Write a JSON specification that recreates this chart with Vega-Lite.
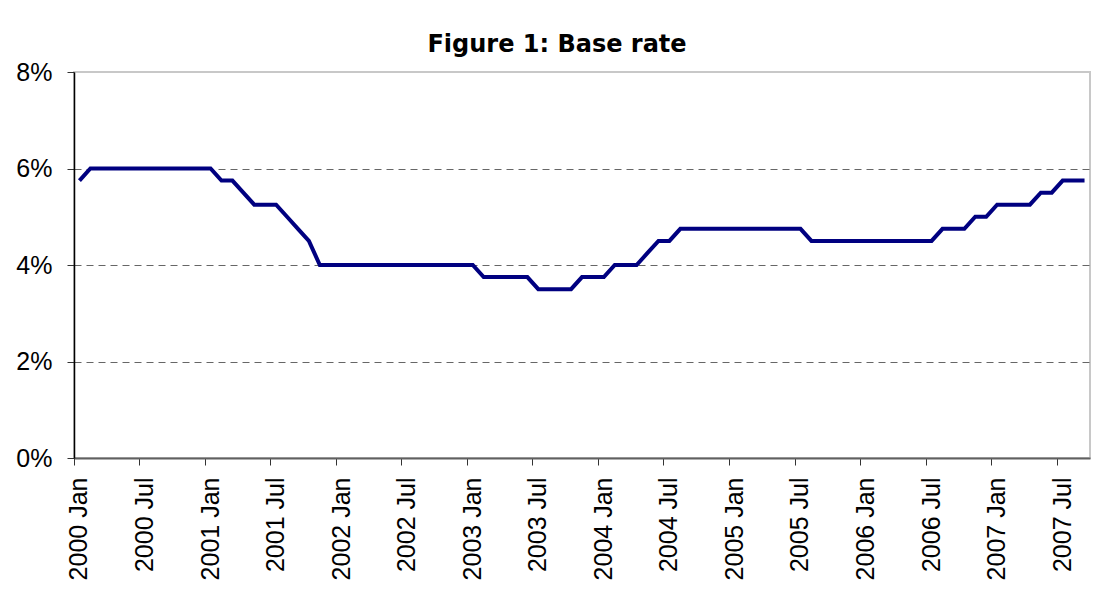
{
  "$schema": "https://vega.github.io/schema/vega-lite/v6.json",
  "width": 1016,
  "height": 386,
  "autosize": {"type": "none"},
  "padding": {"left": 74, "top": 72, "right": 8, "bottom": 131},
  "background": "white",
  "title": {
    "text": "Figure 1: Base rate",
    "font": "DejaVu Sans",
    "fontSize": 24,
    "fontWeight": "bold",
    "color": "black",
    "frame": "group",
    "anchor": "middle",
    "baseline": "alphabetic",
    "offset": -16,
    "dx": -25
  },
  "config": {
    "view": {"stroke": "#c8c8c8", "strokeWidth": 2},
    "axis": {
      "labelFont": "Liberation Sans",
      "labelFontSize": 25,
      "labelColor": "black",
      "titleFont": "Liberation Sans"
    }
  },
  "data": {
    "values": [
      {"month": "2000 Jan", "rate": 5.75}, {"month": "2000 Feb", "rate": 6.0}, {"month": "2000 Mar", "rate": 6.0},
      {"month": "2000 Apr", "rate": 6.0}, {"month": "2000 May", "rate": 6.0}, {"month": "2000 Jun", "rate": 6.0},
      {"month": "2000 Jul", "rate": 6.0}, {"month": "2000 Aug", "rate": 6.0}, {"month": "2000 Sep", "rate": 6.0},
      {"month": "2000 Oct", "rate": 6.0}, {"month": "2000 Nov", "rate": 6.0}, {"month": "2000 Dec", "rate": 6.0},
      {"month": "2001 Jan", "rate": 6.0}, {"month": "2001 Feb", "rate": 5.75}, {"month": "2001 Mar", "rate": 5.75},
      {"month": "2001 Apr", "rate": 5.5}, {"month": "2001 May", "rate": 5.25}, {"month": "2001 Jun", "rate": 5.25},
      {"month": "2001 Jul", "rate": 5.25}, {"month": "2001 Aug", "rate": 5.0}, {"month": "2001 Sep", "rate": 4.75},
      {"month": "2001 Oct", "rate": 4.5}, {"month": "2001 Nov", "rate": 4.0}, {"month": "2001 Dec", "rate": 4.0},
      {"month": "2002 Jan", "rate": 4.0}, {"month": "2002 Feb", "rate": 4.0}, {"month": "2002 Mar", "rate": 4.0},
      {"month": "2002 Apr", "rate": 4.0}, {"month": "2002 May", "rate": 4.0}, {"month": "2002 Jun", "rate": 4.0},
      {"month": "2002 Jul", "rate": 4.0}, {"month": "2002 Aug", "rate": 4.0}, {"month": "2002 Sep", "rate": 4.0},
      {"month": "2002 Oct", "rate": 4.0}, {"month": "2002 Nov", "rate": 4.0}, {"month": "2002 Dec", "rate": 4.0},
      {"month": "2003 Jan", "rate": 4.0}, {"month": "2003 Feb", "rate": 3.75}, {"month": "2003 Mar", "rate": 3.75},
      {"month": "2003 Apr", "rate": 3.75}, {"month": "2003 May", "rate": 3.75}, {"month": "2003 Jun", "rate": 3.75},
      {"month": "2003 Jul", "rate": 3.5}, {"month": "2003 Aug", "rate": 3.5}, {"month": "2003 Sep", "rate": 3.5},
      {"month": "2003 Oct", "rate": 3.5}, {"month": "2003 Nov", "rate": 3.75}, {"month": "2003 Dec", "rate": 3.75},
      {"month": "2004 Jan", "rate": 3.75}, {"month": "2004 Feb", "rate": 4.0}, {"month": "2004 Mar", "rate": 4.0},
      {"month": "2004 Apr", "rate": 4.0}, {"month": "2004 May", "rate": 4.25}, {"month": "2004 Jun", "rate": 4.5},
      {"month": "2004 Jul", "rate": 4.5}, {"month": "2004 Aug", "rate": 4.75}, {"month": "2004 Sep", "rate": 4.75},
      {"month": "2004 Oct", "rate": 4.75}, {"month": "2004 Nov", "rate": 4.75}, {"month": "2004 Dec", "rate": 4.75},
      {"month": "2005 Jan", "rate": 4.75}, {"month": "2005 Feb", "rate": 4.75}, {"month": "2005 Mar", "rate": 4.75},
      {"month": "2005 Apr", "rate": 4.75}, {"month": "2005 May", "rate": 4.75}, {"month": "2005 Jun", "rate": 4.75},
      {"month": "2005 Jul", "rate": 4.75}, {"month": "2005 Aug", "rate": 4.5}, {"month": "2005 Sep", "rate": 4.5},
      {"month": "2005 Oct", "rate": 4.5}, {"month": "2005 Nov", "rate": 4.5}, {"month": "2005 Dec", "rate": 4.5},
      {"month": "2006 Jan", "rate": 4.5}, {"month": "2006 Feb", "rate": 4.5}, {"month": "2006 Mar", "rate": 4.5},
      {"month": "2006 Apr", "rate": 4.5}, {"month": "2006 May", "rate": 4.5}, {"month": "2006 Jun", "rate": 4.5},
      {"month": "2006 Jul", "rate": 4.5}, {"month": "2006 Aug", "rate": 4.75}, {"month": "2006 Sep", "rate": 4.75},
      {"month": "2006 Oct", "rate": 4.75}, {"month": "2006 Nov", "rate": 5.0}, {"month": "2006 Dec", "rate": 5.0},
      {"month": "2007 Jan", "rate": 5.25}, {"month": "2007 Feb", "rate": 5.25}, {"month": "2007 Mar", "rate": 5.25},
      {"month": "2007 Apr", "rate": 5.25}, {"month": "2007 May", "rate": 5.5}, {"month": "2007 Jun", "rate": 5.5},
      {"month": "2007 Jul", "rate": 5.75}, {"month": "2007 Aug", "rate": 5.75}, {"month": "2007 Sep", "rate": 5.75}
    ]
  },
  "mark": {"type": "line", "color": "#000080", "strokeWidth": 4, "clip": false},
  "encoding": {
    "x": {
      "field": "month",
      "type": "ordinal",
      "sort": null,
      "bandPosition": 0.5,
      "scale": {"type": "band", "paddingInner": 0, "paddingOuter": 0},
      "axis": {
        "title": null,
        "values": ["2000 Jan", "2000 Jul", "2001 Jan", "2001 Jul", "2002 Jan", "2002 Jul", "2003 Jan", "2003 Jul", "2004 Jan", "2004 Jul", "2005 Jan", "2005 Jul", "2006 Jan", "2006 Jul", "2007 Jan", "2007 Jul"],
        "labelAngle": -90,
        "labelAlign": "right",
        "labelBaseline": "middle",
        "bandPosition": 0,
        "tickExtra": false,
        "tickSize": 7,
        "tickColor": "#333333",
        "labelPadding": 12,
        "domainColor": "#606060",
        "domainWidth": 2,
        "grid": false,
        "labelOverlap": false
      }
    },
    "y": {
      "field": "rate",
      "type": "quantitative",
      "scale": {"domain": [0, 8], "nice": false},
      "axis": {
        "title": null,
        "values": [0, 2, 4, 6, 8],
        "labelExpr": "datum.value + '%'",
        "tickSize": 7,
        "tickColor": "#333333",
        "labelPadding": 15,
        "domainColor": "black",
        "domainWidth": 1.5,
        "grid": true,
        "gridColor": "#666666",
        "gridDash": [7, 5],
        "gridWidth": 1,
        "gridOpacity": {"condition": {"test": "datum.value == 0 || datum.value == 8", "value": 0}, "value": 1}
      }
    }
  }
}
